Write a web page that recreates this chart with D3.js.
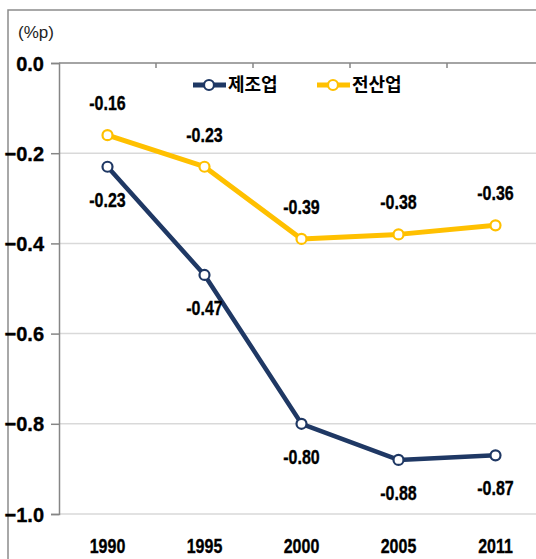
<!DOCTYPE html>
<html><head><meta charset="utf-8">
<script src="https://cdn.jsdelivr.net/npm/d3@7"></script>
<style>
body{margin:0;background:#fff;}
svg{display:block;}
.num{font-family:"Liberation Sans",Arial,sans-serif;font-weight:bold;stroke:#000;stroke-width:0.35px;}
</style></head>
<body><svg id="c" width="536" height="559"></svg>
<script>
const years = ["1990","1995","2000","2005","2011"];
const manufacturing = [-0.23,-0.47,-0.80,-0.88,-0.87];
const allIndustry = [-0.16,-0.23,-0.39,-0.38,-0.36];
const yTicks = [0,-0.2,-0.4,-0.6,-0.8,-1.0];
const seriesNames = ["제조업","전산업"];
const colors = ["#1F3864","#FFC000"];

const svg = d3.select("#c");
const pLeft = 59, pTop = 63, pBottom = 514, pRight = 544;
const narrow = 0.8;

// outer frame
svg.append("path").attr("d","M8,559V10H536").attr("fill","none").attr("stroke","#8c8c8c").attr("stroke-width",1.5);

const x = d3.scaleBand().domain(years).range([pLeft,pRight]);
const y = d3.scaleLinear().domain([-1,0]).range([pBottom,pTop]);

// gridlines
svg.append("g").selectAll("line").data(yTicks.filter(d=>d!==0)).join("line")
  .attr("x1",pLeft).attr("x2",pRight).attr("y1",d=>y(d)).attr("y2",d=>y(d))
  .attr("stroke","#d9d9d9").attr("stroke-width",1.5);

// y axis
const yAxis = svg.append("g").attr("transform",`translate(${pLeft},0)`)
  .call(d3.axisLeft(y).tickValues(yTicks).tickSize(8).tickPadding(7).tickFormat(d3.format(".1f")));
yAxis.select(".domain").attr("stroke","#868686").attr("stroke-width",1.5);
yAxis.selectAll(".tick line").attr("stroke","#868686").attr("stroke-width",1.5);
yAxis.selectAll("text").attr("class","num").attr("font-size",20).attr("fill","#000").attr("dy","0.35em");

// top x axis line at 0 with ticks at category boundaries
const xAxisG = svg.append("g").attr("transform",`translate(0,${y(0)})`);
xAxisG.append("line").attr("x1",pLeft).attr("x2",pRight).attr("stroke","#868686").attr("stroke-width",1.5);
xAxisG.selectAll("line.t").data(years.slice(1)).join("line").attr("class","t")
  .attr("x1",d=>x(d)).attr("x2",d=>x(d)).attr("y1",0).attr("y2",5)
  .attr("stroke","#868686").attr("stroke-width",1.5);

// x labels at bottom
svg.append("g").selectAll("text").data(years).join("text").attr("class","num")
  .attr("transform",d=>`translate(${x(d)+x.bandwidth()/2},546) scale(${narrow},1)`).attr("dy","0.35em")
  .attr("text-anchor","middle").attr("font-size",20).attr("fill","#000").text(d=>d);

// (%p)
svg.append("text").attr("x",18).attr("y",32).attr("dy","0.35em")
  .attr("font-family","'Liberation Sans',Arial,sans-serif").attr("font-size",17).attr("fill","#222").text("(%p)");

const cx = (d,i)=>x(years[i])+x.bandwidth()/2;
const line = d3.line().x(cx).y(d=>y(d));

function drawSeries(data,color,w,labelDy){
  svg.append("path").datum(data).attr("d",line).attr("fill","none")
    .attr("stroke",color).attr("stroke-width",w).attr("stroke-linejoin","round");
  svg.append("g").selectAll("circle").data(data).join("circle")
    .attr("cx",cx).attr("cy",d=>y(d)).attr("r",5)
    .attr("fill","#fff").attr("stroke",color).attr("stroke-width",2.2);
  svg.append("g").selectAll("text").data(data).join("text").attr("class","num")
    .attr("transform",(d,i)=>`translate(${cx(d,i)},${y(d)+labelDy}) scale(${narrow},1)`).attr("dy","0.35em")
    .attr("text-anchor","middle").attr("font-size",20).attr("fill","#000")
    .text(d=>d.toFixed(2));
}
drawSeries(allIndustry,colors[1],5,-32);
drawSeries(manufacturing,colors[0],4.5,33);

// legend
const legend = [{x:193,name:seriesNames[0],c:colors[0]},{x:317,name:seriesNames[1],c:colors[1]}];
const lg = svg.append("g").selectAll("g").data(legend).join("g").attr("transform",d=>`translate(${d.x},85)`);
lg.append("line").attr("x1",0).attr("x2",33).attr("stroke",d=>d.c).attr("stroke-width",5);
lg.append("circle").attr("cx",16).attr("r",5).attr("fill","#fff").attr("stroke",d=>d.c).attr("stroke-width",2.2);
lg.append("text").attr("x",35).attr("dy","0.36em").attr("font-family","'Noto Sans CJK KR',sans-serif")
  .attr("font-weight","bold").attr("font-size",18).attr("fill","#000").text(d=>d.name);
</script></body></html>
